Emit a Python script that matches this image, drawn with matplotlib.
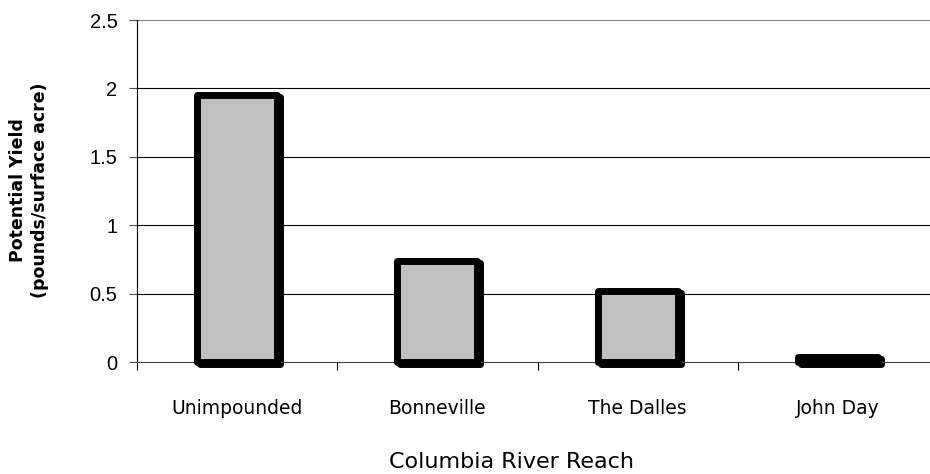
import matplotlib
matplotlib.use('Agg')
import matplotlib.pyplot as plt
import matplotlib.transforms as mtransforms

reaches = ['Unimpounded', 'Bonneville', 'The Dalles', 'John Day']
yield_vals = [1.95, 0.74, 0.52, 0.04]
yticks = [0, 0.5, 1, 1.5, 2, 2.5]
ytick_labels = ['0', '0.5', '1', '1.5', '2', '2.5']

fig = plt.figure(figsize=(9.3, 4.74), dpi=100)
ax = fig.add_axes([137/930, 1 - 362/474, 801/930, 342/474])

x = list(range(len(reaches)))

# shadow a few pixels right/down
shadow = mtransforms.offset_copy(ax.transData, fig=fig, x=3, y=-2, units='dots')
ax.bar(x, yield_vals, width=0.4, color='black', edgecolor='black', linewidth=5,
       transform=shadow, zorder=2, joinstyle='round', clip_on=False)
ax.bar(x, yield_vals, width=0.4, color='#C0C0C0', edgecolor='black', linewidth=5,
       zorder=3, joinstyle='round', clip_on=False)

ax.set_xlim(-0.5, len(reaches) - 0.5)
ax.set_ylim(0, 2.5)
ax.set_yticks(yticks)
ax.set_yticklabels(ytick_labels, fontfamily='Liberation Sans', fontsize=14.5)
ax.set_xticks([i - 0.5 for i in x])
ax.set_xticklabels([])
ax.set_xticks(x, minor=True)
ax.set_xticklabels(reaches, minor=True, fontfamily='DejaVu Sans', fontsize=13.5)
ax.tick_params(axis='x', which='minor', length=0, pad=27)
ax.tick_params(axis='x', which='major', length=6, direction='out', color='black')
ax.tick_params(axis='y', length=6, direction='out', pad=8, color='#505050')

for v in yticks[1:-1]:
    ax.axhline(v, color='black', linewidth=0.8, zorder=1)
ax.axhline(2.5, color='#808080', linewidth=1.5, zorder=1)

ax.spines['top'].set_visible(False)
ax.spines['right'].set_visible(False)
ax.spines['left'].set_color('black')
ax.spines['bottom'].set_color('#404040')

fig.text(511/930, 1 - 462/474, 'Columbia River Reach', fontfamily='DejaVu Sans',
         fontsize=16, ha='center', va='center')
fig.text(18/930, 1 - 190/474, 'Potential Yield', fontfamily='DejaVu Sans',
         fontsize=12.5, fontweight='bold', rotation=90, ha='center', va='center')
fig.text(40/930, 1 - 190/474, '(pounds/surface acre)', fontfamily='DejaVu Sans',
         fontsize=12.5, fontweight='bold', rotation=90, ha='center', va='center')

fig.savefig('out.png', dpi=100)
